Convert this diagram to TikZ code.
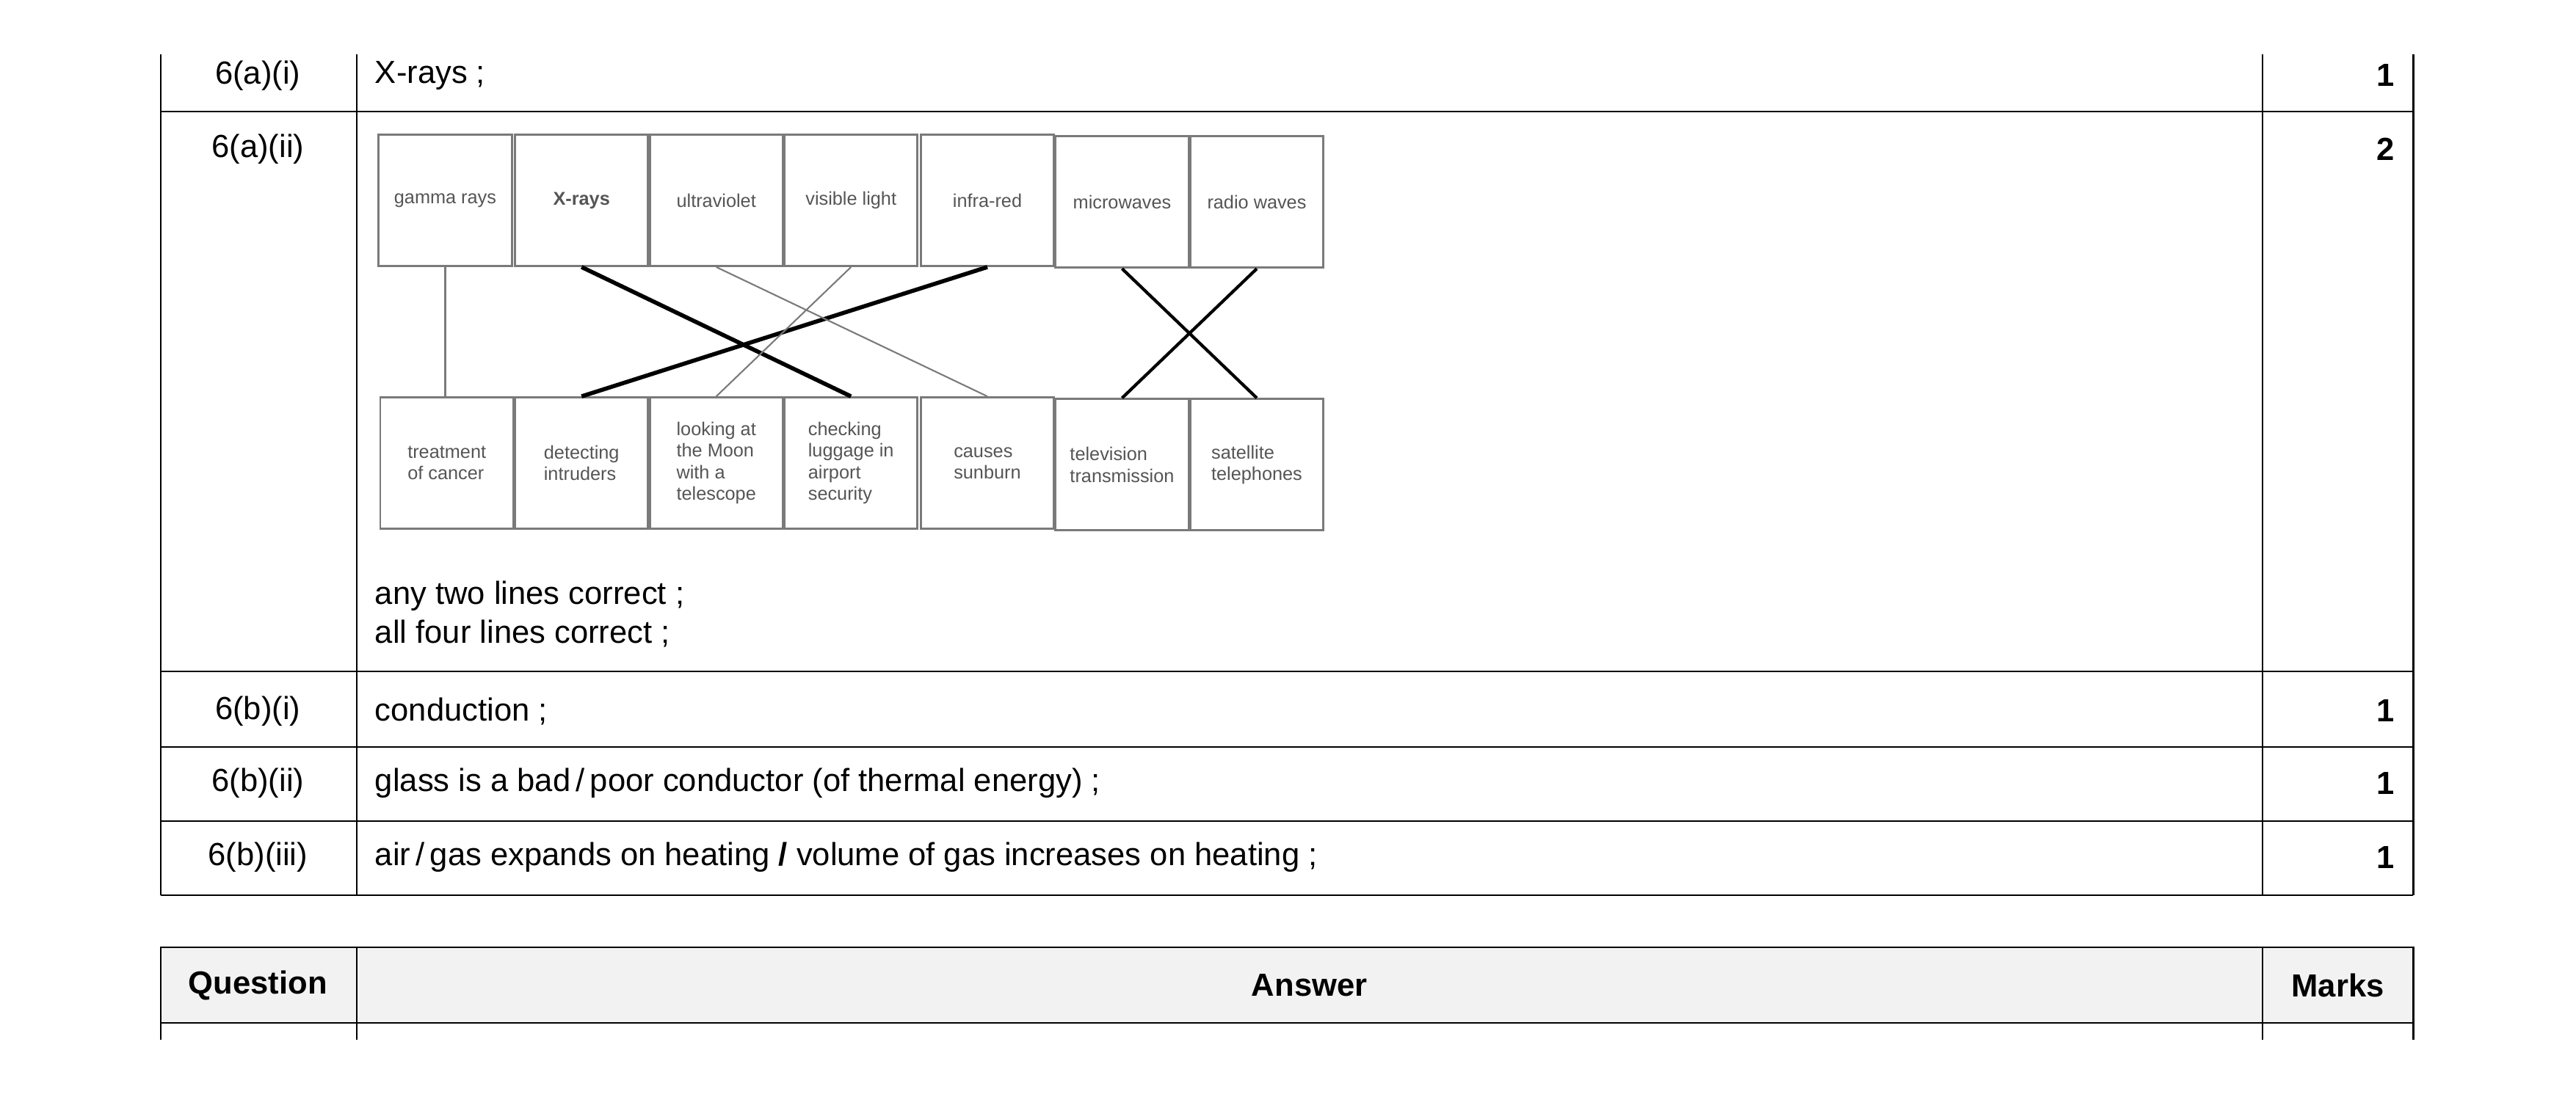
\documentclass[tikz,border=0pt]{standalone}
\usepackage{fontspec}
\setmainfont{Liberation Sans}
\usetikzlibrary{positioning}
\definecolor{HeadGray}{HTML}{F2F2F2}
\definecolor{BoxGray}{HTML}{7A7A7A}
\definecolor{TextGray}{HTML}{555555}
\begin{document}
\begin{tikzpicture}[x=0.02238cm, y=-0.02238cm,
    rule/.style={black, line width=0.6pt},
    cell/.style={font=\fontsize{12.4}{15}\selectfont, inner sep=0pt},
    band/.style={draw=BoxGray, line width=0.8pt, minimum width=81*0.02238cm, minimum height=80*0.02238cm, inner sep=1pt,
        font=\fontsize{7.2}{8.4}\selectfont, text=TextGray, align=left},
    thick link/.style={line width=1.6pt},
    thin link/.style={BoxGray, line width=0.6pt}]
    \useasboundingbox (0,0) rectangle (1568,668);
    % Table frame
    \draw[rule] (98,33) -- (98,545) (217,33) -- (217,545) (1377,33) -- (1377,545) (1469,33) -- (1469,545);
    \foreach \y in {68,409,455,500,545}
        \draw[rule] (98,\y) -- (1469,\y);
    % Rows
    \node[cell] (q1) at (157,46) {6(a)(i)};
    \node[cell, anchor=west] (a1) at (228,46) {X-rays ;};
    \node[cell, font=\fontsize{12.4}{15}\selectfont\bfseries] (m1) at (1452,46) {1};
    \node[cell] (q2) at (157,91) {6(a)(ii)};
    \node[cell, font=\fontsize{12.4}{15}\selectfont\bfseries] (m2) at (1452,91) {2};
    \node[cell, anchor=west] (a2a) at (228,363) {any two lines correct ;};
    \node[cell, anchor=west] (a2b) at (228,386) {all four lines correct ;};
    \node[cell] (q3) at (157,433) {6(b)(i)};
    \node[cell, anchor=west] (a3) at (228,433) {conduction ;};
    \node[cell, font=\fontsize{12.4}{15}\selectfont\bfseries] (m3) at (1452,433) {1};
    \node[cell] (q4) at (157,477) {6(b)(ii)};
    \node[cell, anchor=west] (a4) at (228,477) {glass is a bad\,/\,poor conductor (of thermal energy) ;};
    \node[cell, font=\fontsize{12.4}{15}\selectfont\bfseries] (m4) at (1452,477) {1};
    \node[cell] (q5) at (157,522) {6(b)(iii)};
    \node[cell, anchor=west] (a5) at (228,522) {air\,/\,gas expands on heating \textbf{/} volume of gas increases on heating ;};
    \node[cell, font=\fontsize{12.4}{15}\selectfont\bfseries] (m5) at (1452,522) {1};
    % Next table header
    \fill[HeadGray] (98,577) rectangle (1469,623);
    \draw[rule] (98,577) rectangle (1469,623);
    \draw[rule] (98,623) -- (98,633) (217,577) -- (217,633) (1377,577) -- (1377,633) (1469,623) -- (1469,633);
    \node[cell, font=\fontsize{12.4}{15}\selectfont\bfseries] (hq) at (157,600) {Question};
    \node[cell, font=\fontsize{12.4}{15}\selectfont\bfseries] (ha) at (797,600) {Answer};
    \node[cell, font=\fontsize{12.4}{15}\selectfont\bfseries] (hm) at (1423,600) {Marks};
    % Spectrum boxes
    \node[band] (gam)   at (271,122) {gamma rays};
    \node[band] (xray)  at (354,122) {\textbf{X-rays}};
    \node[band] (uv)    at (436,122) {ultraviolet};
    \node[band] (vis)   at (518,122) {visible light};
    \node[band] (ir)    at (601,122) {infra-red};
    \node[band] (micro) at (683,123) {microwaves};
    \node[band] (radio) at (765,123) {radio waves};
    % Use boxes
    \node[band] (cancer)   at (272,282) {treatment\\of cancer};
    \node[band] (intruder) at (354,282) {detecting\\intruders};
    \node[band] (moon)     at (436,282) {looking at\\the Moon\\with a\\telescope};
    \node[band] (luggage)  at (518,282) {checking\\luggage in\\airport\\security};
    \node[band] (sunburn)  at (601,282) {causes\\sunburn};
    \node[band] (tv)       at (683,283) {television\\transmission};
    \node[band] (phone)    at (765,283) {satellite\\telephones};
    % Matching lines
    \draw[thin link] (gam.south) -- (gam.south |- cancer.north);
    \draw[thick link] (xray.south) -- (luggage.north);
    \draw[thick link] (ir.south) -- (intruder.north);
    \draw[thin link] (uv.south) -- (sunburn.north);
    \draw[thin link] (vis.south) -- (moon.north);
    \draw[thick link, line width=1.2pt] (micro.south) -- (phone.north);
    \draw[thick link, line width=1.2pt] (radio.south) -- (tv.north);
\end{tikzpicture}
\end{document}
